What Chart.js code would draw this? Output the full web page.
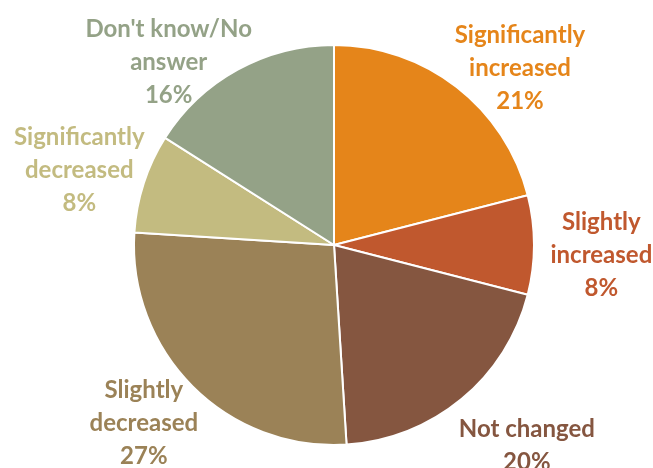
<!DOCTYPE html>
<html>
<head>
<meta charset="utf-8">
<script src="https://cdn.jsdelivr.net/npm/chart.js@4/dist/chart.umd.min.js"></script>
<style>
  html, body { margin: 0; padding: 0; background: #ffffff; }
  #wrap { width: 653px; height: 468px; position: relative; }
</style>
</head>
<body>
<div id="wrap"><canvas id="chart" width="653" height="468"></canvas></div>
<script>
// Survey answers, clockwise from 12 o'clock
const categories = [
  ['Significantly', 'increased'],
  ['Slightly', 'increased'],
  ['Not changed'],
  ['Slightly', 'decreased'],
  ['Significantly', 'decreased'],
  ["Don't know/No", 'answer']
];
const shares = [21, 8, 20, 27, 8, 16];
const sliceColors = ['#E5851A', '#C0582E', '#855640', '#9B8257', '#C3BB80', '#94A287'];

// Where each label sits: angle nudge (degrees) from the slice middle, distance as a multiple of the radius
const labelPlacement = [
  { nudge: 8.6, dist: 1.284 },
  { nudge: 2.3, dist: 1.338 },
  { nudge: -4.2, dist: 1.393 },
  { nudge: 1.9, dist: 1.302 },
  { nudge: -1.7, dist: 1.327 },
  { nudge: -13.3, dist: 1.233 }
];

const outsideLabels = {
  id: 'outsideLabels',
  afterDatasetsDraw(chart) {
    const ctx = chart.ctx;
    const meta = chart.getDatasetMeta(0);
    const ds = chart.data.datasets[0];
    ctx.save();
    ctx.font = 'bold 24px Lato, "Open Sans", sans-serif';
    ctx.textAlign = 'center';
    ctx.textBaseline = 'middle';
    const lineH = 33;
    meta.data.forEach((arc, i) => {
      const p = arc.getProps(['x', 'y', 'startAngle', 'endAngle', 'outerRadius'], true);
      const place = labelPlacement[i];
      const a = (p.startAngle + p.endAngle) / 2 + place.nudge * Math.PI / 180;
      const cx = p.x + Math.cos(a) * p.outerRadius * place.dist;
      const cy = p.y + Math.sin(a) * p.outerRadius * place.dist;
      const lines = chart.data.labels[i].concat([ds.data[i] + '%']);
      const top = cy - (lines.length - 1) * lineH / 2;
      ctx.fillStyle = sliceColors[i];
      lines.forEach((t, k) => ctx.fillText(t, cx, top + k * lineH));
    });
    ctx.restore();
  }
};

new Chart(document.getElementById('chart'), {
  type: 'pie',
  data: {
    labels: categories,
    datasets: [{
      data: shares,
      backgroundColor: sliceColors,
      borderColor: '#ffffff',
      borderWidth: 2
    }]
  },
  options: {
    responsive: false,
    animation: false,
    layout: { padding: { top: 44, bottom: 22, left: 133, right: 118 } },
    plugins: {
      legend: { display: false },
      tooltip: { enabled: false }
    }
  },
  plugins: [outsideLabels]
});
</script>
</body>
</html>
